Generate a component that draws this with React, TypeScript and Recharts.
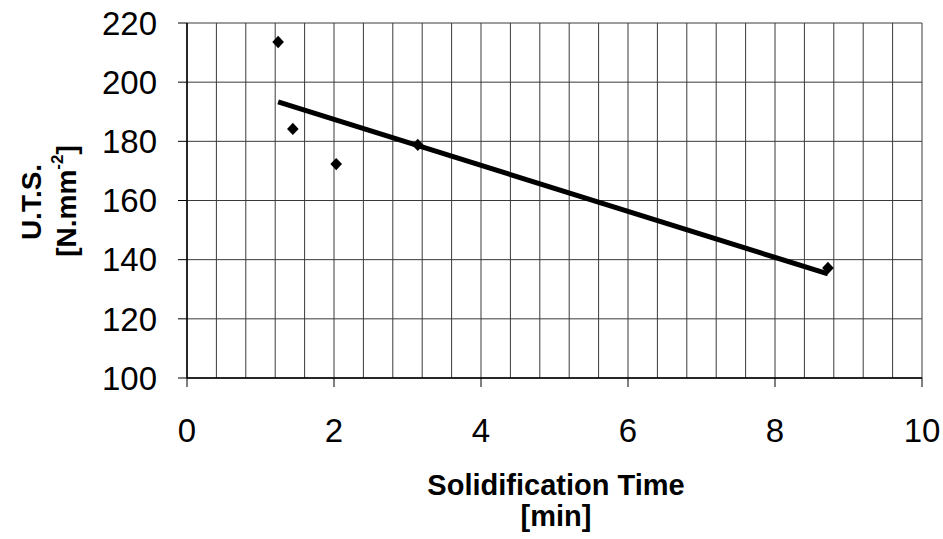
import React from "react";
import { ScatterChart, Scatter, XAxis, YAxis, CartesianGrid } from "recharts";

const solidificationTime = [1.24, 1.44, 2.03, 3.14, 8.72];
const utsValues = [213.6, 184.2, 172.3, 178.8, 137.2];
const trendX = [1.24, 8.72];
const trendY = [193.3, 135.2];
const xTicks = [0, 2, 4, 6, 8, 10];
const yTicks = [100, 120, 140, 160, 180, 200, 220];
const xGridValues = [0, 0.4, 0.8, 1.2, 1.6, 2, 2.4, 2.8, 3.2, 3.6, 4, 4.4, 4.8, 5.2, 5.6, 6, 6.4, 6.8, 7.2, 7.6, 8, 8.4, 8.8, 9.2, 9.6, 10];
const yGridValues = [100, 120, 140, 160, 180, 200, 220];

const points = solidificationTime.map((x, i) => ({ x, y: utsValues[i] }));
const trend = trendX.map((x, i) => ({ x, y: trendY[i] }));

const FONT = "'Liberation Sans', Arial, sans-serif";

const Diamond = (props: any) => {
  const { cx, cy } = props;
  if (cx == null || cy == null) return null;
  const w = 5.8;
  const h = 6.2;
  return (
    <polygon
      points={`${cx},${cy - h} ${cx + w},${cy} ${cx},${cy + h} ${cx - w},${cy}`}
      fill="#000"
    />
  );
};

const NoShape = () => null;

const YTitle = () => (
  <g fontFamily={FONT} fontWeight="bold" fill="#000">
    <text
      x={31}
      y={202}
      transform="rotate(-90, 31, 202)"
      textAnchor="middle"
      dy="0.36em"
      fontSize={28}
    >
      U.T.S.
    </text>
    <text
      x={66}
      y={201}
      transform="rotate(-90, 66, 201)"
      textAnchor="middle"
      dy="0.36em"
      fontSize={28}
    >
      [N.mm
      <tspan fontSize={17} dy="-0.75em">-2</tspan>
      <tspan dy="0.45em">]</tspan>
    </text>
  </g>
);

const XTitle = () => (
  <g fontFamily={FONT} fontWeight="bold" fill="#000" fontSize={29}>
    <text x={556} y={495} textAnchor="middle">
      Solidification Time
    </text>
    <text x={556} y={526} textAnchor="middle">
      [min]
    </text>
  </g>
);

export default function App() {
  return (
    <div style={{ position: "absolute", left: 0, top: 0, background: "#fff" }}>
      <ScatterChart
        width={943}
        height={539}
        margin={{ top: 23, right: 21, bottom: 0, left: 0 }}
      >
        <CartesianGrid
          stroke="#3a3a3a"
          strokeWidth={1}
          verticalValues={xGridValues}
          horizontalValues={yGridValues}
        />
        <XAxis
          type="number"
          dataKey="x"
          domain={[0, 10]}
          ticks={xTicks}
          interval={0}
          height={161}
          tickSize={9}
          tickMargin={32}
          axisLine={{ stroke: "#000", strokeWidth: 1.5 }}
          tickLine={{ stroke: "#000", strokeWidth: 1 }}
          tick={{ fill: "#000", fontSize: 33, fontFamily: FONT }}
          label={{ content: () => <XTitle /> }}
        />
        <YAxis
          type="number"
          dataKey="y"
          domain={[100, 220]}
          ticks={yTicks}
          interval={0}
          width={187}
          tickSize={9}
          tickMargin={21}
          axisLine={{ stroke: "#000", strokeWidth: 1.5 }}
          tickLine={{ stroke: "#000", strokeWidth: 1 }}
          tick={{ fill: "#000", fontSize: 33, fontFamily: FONT }}
          label={{ content: () => <YTitle /> }}
        />
        <Scatter
          data={trend}
          line={{ stroke: "#000", strokeWidth: 5 }}
          shape={NoShape}
          isAnimationActive={false}
        />
        <Scatter
          data={points}
          shape={Diamond}
          fill="#000"
          isAnimationActive={false}
        />
      </ScatterChart>
    </div>
  );
}
